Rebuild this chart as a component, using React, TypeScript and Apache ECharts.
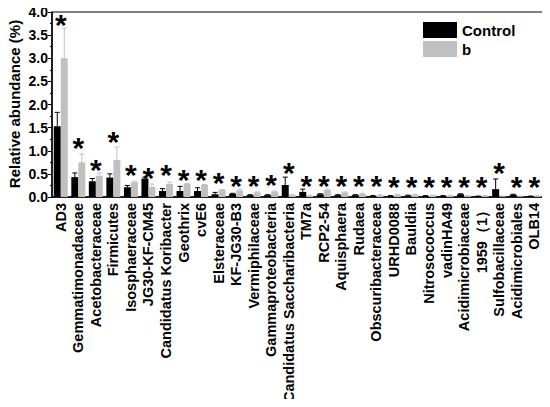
import { useEffect, useRef } from 'react';
import * as echarts from 'echarts';

const categories = [
  'AD3', 'Gemmatimonadaceae', 'Acetobacteraceae', 'Firmicutes', 'Isosphaeraceae', 'JG30-KF-CM45',
  'Candidatus Koribacter', 'Geothrix', 'cvE6', 'Elsteraceae', 'KF-JG30-B3', 'Vermiphilaceae',
  'Gammaproteobacteria', 'Candidatus Saccharibacteria', 'TM7a', 'RCP2-54', 'Aquisphaera', 'Rudaea',
  'Obscuribacteraceae', 'URHD0088', 'Bauldia', 'Nitrosococcus', 'vadinHA49', 'Acidimicrobiaceae',
  '1959（1）', 'Sulfobacillaceae', 'Acidimicrobiales', 'OLB14',
];
const controlValues = [1.53, 0.43, 0.34, 0.42, 0.21, 0.4, 0.13, 0.13, 0.13, 0.06, 0.07, 0.04, 0.04, 0.26, 0.11, 0.06, 0.04, 0.04, 0.02, 0.02, 0.03, 0.02, 0.02, 0.06, 0.01, 0.17, 0.05, 0.01];
const controlErr = [0.3, 0.09, 0.06, 0.08, 0.04, 0.03, 0.05, 0.1, 0.07, 0.04, 0.01, 0.01, 0.01, 0.17, 0.06, 0.01, 0.01, 0.01, 0.01, 0.01, 0.01, 0.01, 0.01, 0.01, 0.01, 0.22, 0.01, 0.01];
const bValues = [3.0, 0.75, 0.46, 0.8, 0.32, 0.22, 0.28, 0.28, 0.26, 0.15, 0.14, 0.1, 0.12, 0.04, 0.03, 0.15, 0.1, 0.07, 0.04, 0.05, 0.05, 0.03, 0.03, 0.02, 0.02, 0.01, 0.01, 0.02];
const bErr = [0.65, 0.18, 0.06, 0.28, 0.02, 0.06, 0.04, 0.01, 0.01, 0.01, 0.02, 0.01, 0.01, 0.01, 0.01, 0.02, 0.01, 0.01, 0.01, 0.01, 0.01, 0.01, 0.01, 0.01, 0.01, 0.01, 0.01, 0.01];
// where each significance asterisk sits (value units)
const starLevels = [3.87, 1.2, 0.73, 1.34, 0.62, 0.55, 0.62, 0.5, 0.51, 0.44, 0.37, 0.37, 0.41, 0.65, 0.37, 0.37, 0.37, 0.37, 0.37, 0.35, 0.35, 0.35, 0.35, 0.35, 0.35, 0.65, 0.35, 0.35];
const yTicks = [0, 0.5, 1, 1.5, 2, 2.5, 3, 3.5, 4];
const yTitle = 'Relative abundance (%)';

const FONT = '"Liberation Sans", Arial, sans-serif';
const BAR_W = 7;

function errorSeries(name: string, values: number[], errs: number[], offset: number, color: string) {
  return {
    type: 'custom',
    name: name + '-err',
    z: 3,
    data: values.map((v, i) => [i, v, v + errs[i]]),
    renderItem: (_params: unknown, api: any) => {
      const lo = api.coord([api.value(0), api.value(1)]);
      const hi = api.coord([api.value(0), api.value(2)]);
      const x = lo[0] + offset;
      return {
        type: 'group',
        children: [
          { type: 'line', shape: { x1: x, y1: lo[1], x2: x, y2: hi[1] }, style: { stroke: color, lineWidth: 1 } },
          { type: 'line', shape: { x1: x - 2.5, y1: hi[1], x2: x + 2.5, y2: hi[1] }, style: { stroke: color, lineWidth: 1 } },
        ],
      };
    },
  };
}

export default function App() {
  const ref = useRef<HTMLDivElement | null>(null);

  useEffect(() => {
    if (!ref.current) {
      return;
    }
    const chart = echarts.init(ref.current, undefined, { renderer: 'svg' });
    chart.setOption({
      animation: false,
      backgroundColor: '#fff',
      grid: {
        left: 52, right: 7, top: 12, bottom: 210,
        show: true, borderColor: '#000', borderWidth: 1,
        outerBoundsMode: 'none', containLabel: false,
      },
      // axis title drawn by hand: the built-in name kept drifting past the left edge
      graphic: [
        {
          type: 'text',
          x: 14,
          y: 104,
          rotation: Math.PI / 2,
          style: { text: yTitle, fontFamily: FONT, fontWeight: 'bold', fontSize: 15, fill: '#000', align: 'center', verticalAlign: 'middle' },
        },
      ],
      legend: {
        data: ['Control', 'b'],
        orient: 'vertical',
        left: 418,
        top: 17,
        itemWidth: 34,
        itemHeight: 16,
        itemGap: 3,
        icon: 'rect',
        textStyle: { fontFamily: FONT, fontWeight: 'bold', fontSize: 15, color: '#000' },
      },
      xAxis: {
        type: 'category',
        data: categories,
        axisLine: { lineStyle: { color: '#000', width: 1.5 } },
        axisTick: { alignWithLabel: true, length: 3, lineStyle: { color: '#000' } },
        axisLabel: { rotate: 90, interval: 0, margin: 6, fontFamily: FONT, fontWeight: 'bold', fontSize: 14.5, color: '#000' },
      },
      yAxis: {
        type: 'value',
        min: 0,
        max: 4,
        interval: 0.5,
        axisLine: { show: true, lineStyle: { color: '#000', width: 1.5 } },
        axisTick: { show: true, length: 4, lineStyle: { color: '#000' } },
        minorTick: { show: true, splitNumber: 2, length: 2, lineStyle: { color: '#000' } },
        splitLine: { show: false },
        axisLabel: {
          margin: 4,
          fontFamily: FONT,
          fontWeight: 'bold',
          fontSize: 14,
          color: '#000',
          formatter: (v: number) => (yTicks.includes(v) ? v.toFixed(1) : ''),
        },
      },
      series: [
        { type: 'bar', name: 'Control', data: controlValues, barWidth: BAR_W, barGap: '0%', itemStyle: { color: '#000' } },
        { type: 'bar', name: 'b', data: bValues, barWidth: BAR_W, barGap: '0%', itemStyle: { color: '#c0c0c0' } },
        errorSeries('Control', controlValues, controlErr, -BAR_W / 2, '#000'),
        errorSeries('b', bValues, bErr, BAR_W / 2, '#c0c0c0'),
        {
          type: 'custom',
          name: 'stars',
          z: 4,
          data: starLevels.map((v, i) => [i, v]),
          renderItem: (_params: unknown, api: any) => {
            const p = api.coord([api.value(0), api.value(1)]);
            return {
              type: 'text',
              x: p[0],
              y: p[1] + 6,
              style: { text: '*', fontFamily: FONT, fontWeight: 'bold', fontSize: 30, fill: '#000', align: 'center', verticalAlign: 'middle' },
            };
          },
        },
      ],
    });
    return () => chart.dispose();
  }, []);

  return <div ref={ref} style={{ width: 550, height: 407, margin: -8 }} />;
}
